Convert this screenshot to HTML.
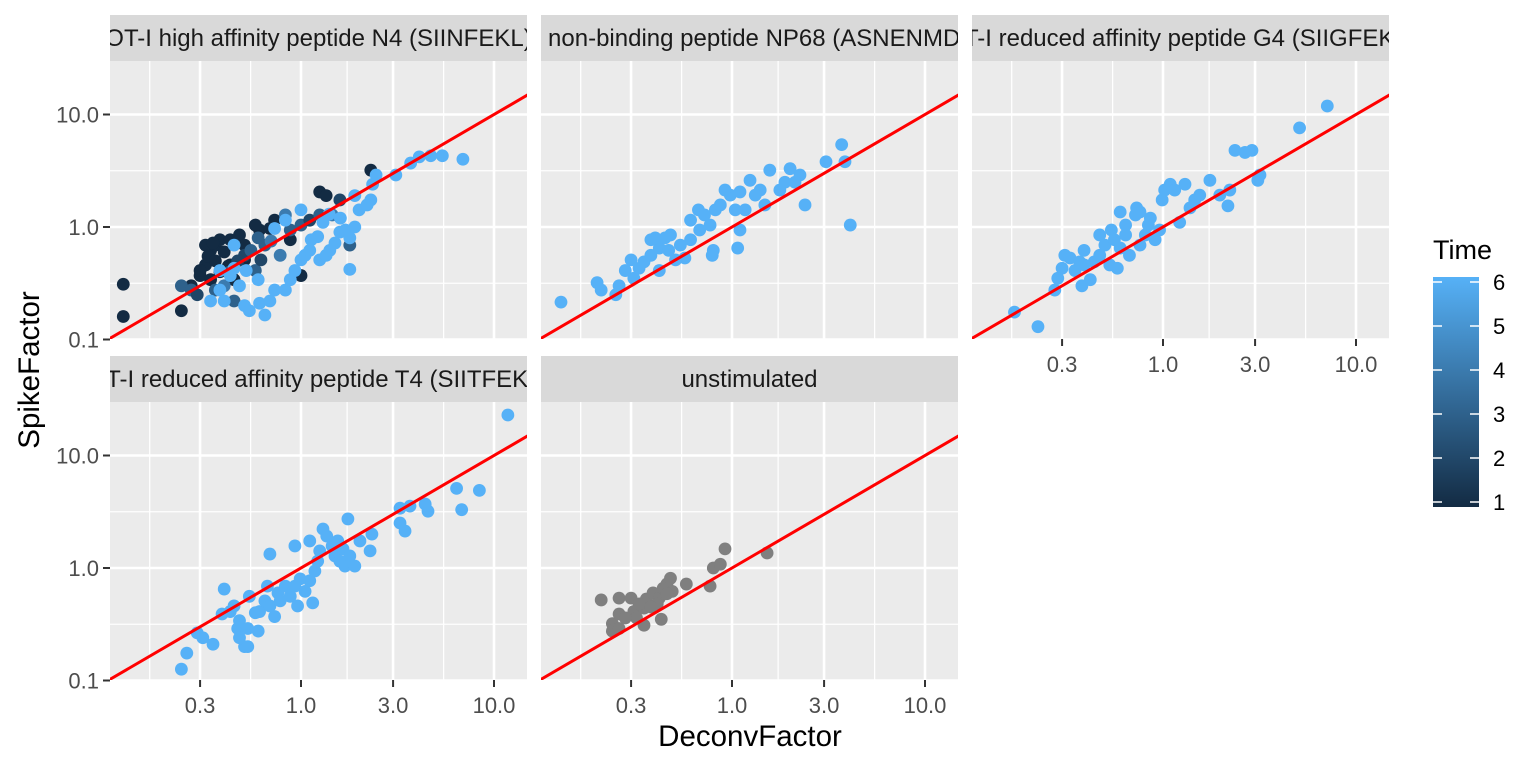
<!DOCTYPE html>
<html><head><meta charset="utf-8">
<style>
html,body{margin:0;padding:0;background:#fff;}
svg{display:block;font-family:"Liberation Sans",Arial,sans-serif;}
</style></head>
<body>
<svg id="chart" width="1536" height="768" viewBox="0 0 1536 768" xmlns="http://www.w3.org/2000/svg">
<defs>
<linearGradient id="timeGrad" x1="0" y1="1" x2="0" y2="0">
<stop offset="0" stop-color="#132B43"/><stop offset="1" stop-color="#56B1F7"/>
</linearGradient>
</defs>
<g id="panels"></g>
<text x="750" y="746" font-size="29.5" text-anchor="middle" fill="#000">DeconvFactor</text>
<text x="0" y="0" font-size="29.5" text-anchor="middle" fill="#000" transform="translate(39,370) rotate(-90)">SpikeFactor</text>
<g>
<text x="1433" y="259" font-size="27" fill="#000">Time</text>
<rect x="1433" y="277" width="46" height="230" fill="url(#timeGrad)"/>
<g id="legendTicks"></g>
</g>
</svg>
<script>
// ---- data ----
const panelTitles = ["OT-I high affinity peptide N4 (SIINFEKL)","OT-I non-binding peptide NP68 (ASNENMDAM)","OT-I reduced affinity peptide G4 (SIIGFEKL)","OT-I reduced affinity peptide T4 (SIITFEKL)","unstimulated"];
const xTicks = [0.3,1,3,10];
const xTickLabels = ["0.3","1.0","3.0","10.0"];
const yTicks = [0.1,1,10];
const yTickLabels = ["0.1","1.0","10.0"];
const legendTicks = [1,2,3,4,5,6];

const p1x = [0.12,0.12,0.24,0.27,0.30,0.32,0.34,0.36,0.32,0.38,0.43,0.48,0.51,0.61,0.69,0.73,0.58,1.25,1.35,2.3,0.88,1.0,0.43,0.51,0.30,0.34,0.45,0.33,0.36,0.40,0.42,0.38,0.35,
 0.24,0.27,0.29,0.36,0.40,0.45,0.58,0.62,0.78,0.88,1.0,1.11,1.25,1.45,1.59,1.79,0.83,0.65,0.51,0.55,0.60,0.70,0.47,0.43,
 0.34,0.38,0.40,0.43,0.45,0.48,0.51,0.54,0.61,0.65,0.69,0.73,0.83,0.88,0.93,1.0,1.05,1.11,1.13,1.22,1.25,1.35,1.41,1.5,1.59,1.7,1.79,1.9,1.79,2.0,2.2,2.3,2.35,2.45,3.1,3.7,4.1,4.7,5.4,6.9,0.83,1.0,0.73,0.6,0.52,0.45,0.38,1.6,1.3,1.9,1.4];
const p1y = [0.31,0.16,0.18,0.30,0.37,0.46,0.62,0.69,0.69,0.77,0.77,0.85,0.69,0.94,0.97,1.15,1.04,2.05,1.9,3.2,0.77,0.37,0.46,0.51,0.41,0.34,0.34,0.55,0.50,0.60,0.45,0.40,0.72,
 0.30,0.275,0.25,0.275,0.30,0.22,0.41,0.51,0.56,0.94,1.04,1.15,1.28,1.28,1.74,0.69,1.28,0.69,0.56,0.62,0.80,0.75,0.50,0.40,
 0.22,0.275,0.22,0.37,0.43,0.30,0.20,0.18,0.21,0.165,0.22,0.275,0.275,0.34,0.41,0.51,0.56,0.62,0.77,0.82,0.51,0.56,0.62,0.72,0.9,0.94,0.8,1.0,0.42,1.42,1.57,1.74,2.4,2.9,2.9,3.7,4.2,4.3,4.3,4.0,1.15,1.42,0.97,0.34,0.41,0.69,0.41,1.2,1.1,1.9,1.3];
const p1t = [1,1,1,1,1,1,1,1,1,1,1,1,1,1,1,1,1,1,1,1,1,1,1,1,1,1,1,1,1,1,1,1,1,
 3,3,2,3,4,3,3,2,4,3,3,2,3,4,2,3,4,3,2,3,3,4,2,3,
 6,6,6,6,6,6,6,6,6,6,6,6,6,6,6,6,6,6,6,6,6,6,6,6,6,6,6,6,6,6,6,6,6,6,6,6,6,6,6,6,6,6,6,6,6,6,6,6,6,6,6];

const p2x = [0.13,0.20,0.21,0.25,0.26,0.28,0.30,0.33,0.35,0.38,0.42,0.45,0.48,0.51,0.54,0.61,0.68,0.77,0.82,0.87,0.98,1.10,1.24,1.40,1.57,1.88,2.0,2.25,2.39,3.07,3.7,3.85,4.1,0.67,0.79,0.80,1.07,1.10,1.17,1.32,1.48,1.77,2.12,0.42,0.31,0.40,0.92,1.04,0.61,0.72,0.57,0.38,0.47];
const p2y = [0.215,0.32,0.275,0.25,0.30,0.41,0.51,0.43,0.49,0.56,0.65,0.80,0.85,0.51,0.69,0.77,0.94,1.04,1.42,1.57,1.92,2.05,2.6,2.13,3.2,2.5,3.3,2.9,1.57,3.8,5.4,3.8,1.04,1.42,0.56,0.62,0.65,0.94,1.42,1.92,1.57,2.13,2.5,0.41,0.35,0.80,2.13,1.42,1.15,1.28,0.53,0.77,0.62];

const p3x = [0.17,0.225,0.275,0.285,0.30,0.31,0.33,0.35,0.37,0.38,0.39,0.42,0.44,0.47,0.50,0.53,0.54,0.56,0.58,0.60,0.64,0.67,0.72,0.73,0.76,0.81,0.86,0.91,0.96,0.99,1.02,1.09,1.15,1.22,1.30,1.38,1.46,1.55,1.75,1.97,2.17,2.22,2.36,2.66,2.89,3.1,3.18,5.1,7.1,0.39,0.47,0.64,0.76,0.60,0.84];
const p3y = [0.175,0.13,0.275,0.35,0.43,0.56,0.53,0.41,0.49,0.30,0.62,0.34,0.49,0.85,0.69,0.46,0.94,0.77,0.43,0.65,1.04,0.56,1.28,1.48,1.36,0.85,1.2,0.77,0.94,1.74,2.13,2.4,2.13,1.1,2.4,1.48,1.74,1.92,2.6,1.92,1.54,2.13,4.8,4.6,4.8,2.6,2.9,7.6,11.9,0.46,0.56,0.85,0.69,1.36,1.04];

const p4x = [0.24,0.256,0.29,0.31,0.35,0.39,0.40,0.43,0.45,0.47,0.48,0.51,0.53,0.54,0.58,0.60,0.61,0.65,0.67,0.69,0.73,0.76,0.78,0.83,0.88,0.93,0.96,0.99,1.05,1.11,1.15,1.18,1.22,1.25,1.30,1.36,1.45,1.50,1.59,1.65,1.69,1.79,1.90,1.75,1.55,2.02,2.28,2.33,0.93,1.11,0.69,3.26,3.26,3.46,3.67,4.4,4.55,6.4,6.8,8.4,11.8,0.53,0.48];
const p4y = [0.126,0.175,0.265,0.24,0.21,0.39,0.65,0.41,0.46,0.29,0.34,0.20,0.29,0.56,0.40,0.275,0.41,0.51,0.69,0.46,0.37,0.60,0.51,0.69,0.56,0.69,0.46,0.80,0.62,0.77,0.49,0.94,1.15,1.42,2.22,1.92,1.57,1.28,1.15,1.48,1.04,1.28,1.04,2.73,1.74,1.74,1.42,2.0,1.57,1.74,1.33,2.51,3.4,2.13,3.55,3.7,3.2,5.1,3.3,4.9,22.9,0.20,0.24];

const p5x = [0.21,0.26,0.30,0.24,0.24,0.26,0.26,0.31,0.32,0.35,0.36,0.39,0.42,0.44,0.46,0.48,0.49,0.43,0.35,0.58,0.77,0.80,0.87,0.92,1.52,0.41,0.33,0.46,0.28,0.38];
const p5y = [0.52,0.54,0.54,0.32,0.275,0.29,0.39,0.41,0.36,0.44,0.53,0.60,0.54,0.66,0.72,0.81,0.62,0.35,0.31,0.72,0.69,1.0,1.08,1.48,1.36,0.48,0.48,0.59,0.36,0.45];

// ---- layout ----
const NS="http://www.w3.org/2000/svg";
const PW=417, PH=278, DEC_X=193, DEC_Y=112.5;
const colLeft=[110,541,972], rowTop=[61,402];
const panelsG=document.getElementById('panels');
function mk(tag,attrs,parent){const e=document.createElementNS(NS,tag);for(const k in attrs)e.setAttribute(k,attrs[k]);(parent||panelsG).appendChild(e);return e;}
function xScale(left,v){return left+191+Math.log10(v)*DEC_X;}
function yScale(top,v){return top+166-Math.log10(v)*DEC_Y;}
function lerp(a,b,t){return Math.round(a+(b-a)*t);}
function timeColor(t){const f=(t-1)/5;return `rgb(${lerp(19,86,f)},${lerp(43,177,f)},${lerp(67,247,f)})`;}

const panels=[
 {c:0,r:0,x:p1x,y:p1y,t:p1t,xl:false,yl:true},
 {c:1,r:0,x:p2x,y:p2y,t:null,xl:false,yl:false},
 {c:2,r:0,x:p3x,y:p3y,t:null,xl:true,yl:false},
 {c:0,r:1,x:p4x,y:p4y,t:null,xl:true,yl:true},
 {c:1,r:1,x:p5x,y:p5y,t:null,grey:true,xl:true,yl:false}
];
const xMinor=[-0.784,-0.261,0.239,0.739], yMinor=[-0.5,0.5];

panels.forEach((p,i)=>{
 const L=colLeft[p.c], T=rowTop[p.r];
 const g=mk('g',{});
 
 
 const clipId='clip'+i;
 const cp=mk('clipPath',{id:clipId},g); mk('rect',{x:L,y:T,width:PW,height:PH},cp);
 const sc=mk('clipPath',{id:'sclip'+i},g); mk('rect',{x:L,y:T-46,width:PW,height:46},sc);
 const bg=mk('rect',{x:L,y:T,width:PW,height:PH,fill:'#EBEBEB'},g);
 
 
 const strip=mk('rect',{x:L,y:T-46,width:PW,height:46,fill:'#D9D9D9'},g);
 
 
 const st=mk('text',{x:L+PW/2,y:T-15,'font-size':24,'text-anchor':'middle',fill:'#1A1A1A','clip-path':`url(#sclip${i})`},g);
 st.textContent=panelTitles[i];
 
 
 const grid=mk('g',{'clip-path':`url(#${clipId})`},g);
 
 
 xMinor.forEach(m=>{const x=L+191+m*DEC_X;mk('line',{x1:x,x2:x,y1:T,y2:T+PH,stroke:'#fff','stroke-width':1.3},grid);});
 yMinor.forEach(m=>{const y=T+166-m*DEC_Y;mk('line',{x1:L,x2:L+PW,y1:y,y2:y,stroke:'#fff','stroke-width':1.3},grid);});
 xTicks.forEach(v=>{const x=xScale(L,v);mk('line',{x1:x,x2:x,y1:T,y2:T+PH,stroke:'#fff','stroke-width':2.6},grid);});
 yTicks.forEach(v=>{const y=yScale(T,v);mk('line',{x1:L,x2:L+PW,y1:y,y2:y,stroke:'#fff','stroke-width':2.6},grid);});
 const pts=mk('g',{'clip-path':`url(#${clipId})`},g);
 
 
 p.x.forEach((xv,j)=>{
   const col=p.grey?'#7F7F7F':timeColor(p.t?p.t[j]:6);
   const c=mk('circle',{cx:xScale(L,xv),cy:yScale(T,p.y[j]),r:6.4,fill:col},pts);
   
   
 });
 const lx0=0.05,lx1=30;
 const ln=mk('line',{x1:xScale(L,lx0),y1:yScale(T,lx0),x2:xScale(L,lx1),y2:yScale(T,lx1),stroke:'#FF0000','stroke-width':3,'clip-path':`url(#${clipId})`},g);
 
 
 if(p.yl){
  yTicks.forEach((v,k)=>{const y=yScale(T,v);
   mk('line',{x1:L-7,x2:L,y1:y,y2:y,stroke:'#333','stroke-width':2},g);
   const tl=mk('text',{x:L-11,y:y+8,'font-size':22,'text-anchor':'end',fill:'#4D4D4D'},g);
   tl.textContent=yTickLabels[k];
   
   
  });
 }
 if(p.xl){
  xTicks.forEach((v,k)=>{const x=xScale(L,v);
   mk('line',{x1:x,x2:x,y1:T+PH,y2:T+PH+7,stroke:'#333','stroke-width':2},g);
   const tl=mk('text',{x:x,y:T+PH+33,'font-size':22,'text-anchor':'middle',fill:'#4D4D4D'},g);
   tl.textContent=xTickLabels[k];
   
   
  });
 }
});

const lt=document.getElementById('legendTicks');
legendTicks.forEach(v=>{
 const y=502-(v-1)*44;
 mk('line',{x1:1433,x2:1442,y1:y,y2:y,stroke:'#fff','stroke-width':1.5},lt);
 mk('line',{x1:1470,x2:1479,y1:y,y2:y,stroke:'#fff','stroke-width':1.5},lt);
 const tx=mk('text',{x:1493,y:y+8,'font-size':22,fill:'#000'},lt);
 tx.textContent=String(v);
 
 
});
</script>
</body></html>
